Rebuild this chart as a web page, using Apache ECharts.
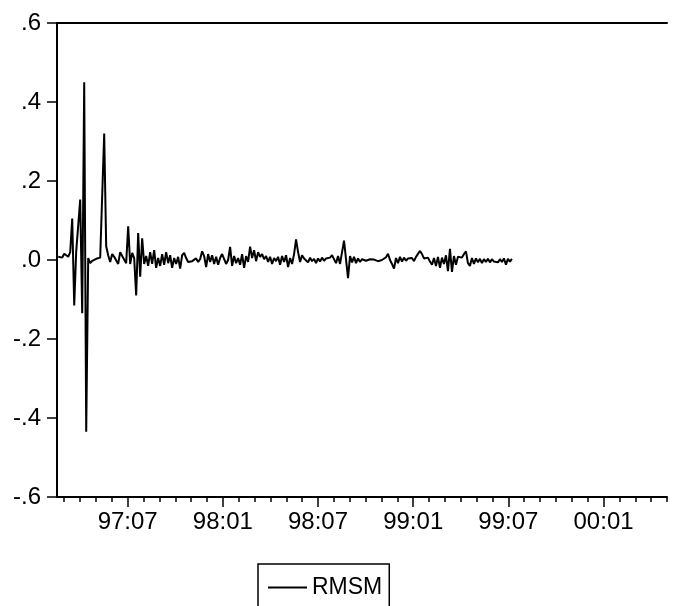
<!DOCTYPE html>
<html>
<head>
<meta charset="utf-8">
<script src="https://cdn.jsdelivr.net/npm/echarts@6/dist/echarts.min.js"></script>
<style>
  html, body { margin: 0; padding: 0; background: #fff; }
  #chart { width: 683px; height: 606px; }
</style>
</head>
<body>
<div id="chart"></div>
<script>
// Series name
const seriesName = 'RMSM';
// Time origin: months counted from 1997:01 (=0). Observations are evenly spaced.
const startMonth = 1.622;
const monthStep = 0.126;
// RMSM values
const rmsm = [
  0.008, 0.012, 0.006, 0.016, 0.019, 0.008, 0.020, 0.105, -0.115, 0.022,
  0.018, 0.153, -0.135, 0.450, -0.435, 0.005, -0.008, -0.002, -0.005, 0.003,
  0.000, 0.006, 0.004, 0.320, 0.035, 0.012, -0.005, 0.015, 0.008, 0.012,
  -0.010, 0.020, 0.010, 0.015, -0.008, 0.085, -0.010, 0.018, 0.005, -0.090,
  0.068, -0.042, 0.055, -0.010, 0.010, -0.015, 0.020, -0.010, 0.025, -0.020,
  0.005, -0.015, 0.015, -0.012, 0.020, -0.008, 0.012, -0.020, 0.005, -0.010,
  0.008, -0.022, 0.012, 0.018, 0.005, -0.005, 0.000, -0.003, -0.008, 0.004,
  -0.005, 0.002, 0.022, 0.010, -0.018, 0.015, -0.005, 0.012, -0.010, 0.008,
  -0.012, 0.005, 0.015, 0.020, -0.010, 0.000, 0.033, -0.015, 0.010, -0.008,
  0.005, -0.012, 0.015, -0.020, 0.010, -0.005, 0.034, 0.005, 0.025, -0.003,
  0.020, 0.008, 0.015, 0.002, 0.010, -0.005, 0.008, -0.010, 0.005, -0.003,
  0.008, -0.012, 0.010, -0.005, 0.012, -0.018, 0.005, -0.010, 0.015, 0.052,
  0.020, -0.005, 0.012, 0.004, 0.008, -0.006, 0.006, -0.003, 0.003, -0.008,
  0.004, -0.004, 0.006, -0.002, 0.004, 0.002, 0.006, 0.012, 0.016, -0.008,
  0.010, -0.010, 0.020, 0.049, 0.048, -0.046, 0.010, -0.006, 0.008, -0.008,
  0.004, -0.005, 0.002, 0.003, -0.002, 0.001, 0.002, -0.002, 0.001, 0.002,
  -0.003, 0.002, 0.000, 0.003, 0.007, 0.016, 0.000, -0.010, -0.022, 0.005,
  -0.008, 0.008, -0.004, 0.006, -0.002, 0.004, 0.002, 0.005, -0.003, 0.008,
  0.010, 0.023, 0.015, 0.004, 0.002, 0.006, -0.004, -0.012, 0.005, -0.015,
  0.008, -0.020, 0.006, -0.010, 0.012, -0.028, 0.028, -0.030, 0.010, -0.012,
  0.008, 0.012, 0.006, 0.015, 0.022, -0.008, -0.015, 0.005, -0.010, 0.004,
  -0.006, 0.003, -0.008, 0.002, -0.005, 0.003, -0.006, 0.002, -0.004, 0.001,
  -0.006, 0.002, -0.005, 0.004, -0.012, 0.003, -0.004, 0.003
];
// Axis ranges and ticks
const xMin = 1.545, xMax = 40;
const minorTickMonths = [2,3,4,5,6,7,8,9,10,11,12,13,14,15,16,17,18,19,20,21,22,23,24,25,26,27,28,29,30,31,32,33,34,35,36,37,38,39,40];
const majorTickMonths = [6, 12, 18, 24, 30, 36];
const majorTickLabels = ['97:07', '98:01', '98:07', '99:01', '99:07', '00:01'];
const yMin = -0.6, yMax = 0.6, yStep = 0.2;

const seriesData = rmsm.map((v, i) => [startMonth + i * monthStep, v]);

const FONT = "'Liberation Sans', Arial, sans-serif";
const chart = echarts.init(document.getElementById('chart'), null, { renderer: 'canvas' });

chart.setOption({
  backgroundColor: '#ffffff',
  animation: false,
  grid: { left: 57, top: 23, right: 16, bottom: 109, containLabel: false },
  xAxis: [
    {
      type: 'value', position: 'bottom', min: xMin, max: xMax,
      axisLine: { show: true, onZero: false, lineStyle: { color: '#000', width: 2 } },
      axisTick: { show: true, customValues: minorTickMonths, length: 5, lineStyle: { color: '#000', width: 1.5 } },
      axisLabel: { show: false },
      splitLine: { show: false }
    },
    {
      type: 'value', position: 'bottom', min: xMin, max: xMax,
      axisLine: { show: false, onZero: false },
      axisTick: { show: true, customValues: majorTickMonths, length: 10, lineStyle: { color: '#000', width: 1.5 } },
      axisLabel: {
        show: true, customValues: majorTickMonths, margin: 13,
        color: '#000', fontSize: 24, fontFamily: FONT,
        formatter: function (v) {
          const idx = majorTickMonths.indexOf(Math.round(v));
          return idx >= 0 ? majorTickLabels[idx] : '';
        }
      },
      splitLine: { show: false }
    },
    {
      type: 'value', position: 'top', min: xMin, max: xMax,
      axisLine: { show: true, onZero: false, lineStyle: { color: '#000', width: 2 } },
      axisTick: { show: false }, axisLabel: { show: false }, splitLine: { show: false }
    }
  ],
  yAxis: {
    type: 'value', min: yMin, max: yMax, interval: yStep,
    axisLine: { show: true, onZero: false, lineStyle: { color: '#000', width: 2 } },
    axisTick: { show: true, length: 10, lineStyle: { color: '#000', width: 1.5 } },
    axisLabel: {
      color: '#000', fontSize: 24, fontFamily: FONT, margin: 16,
      formatter: function (v) {
        return Number(v).toFixed(1).replace('0.', '.');
      }
    },
    splitLine: { show: false }
  },
  legend: {
    show: true, left: 258, top: 564,
    padding: [12, 7, 30, 10],
    borderColor: '#000', borderWidth: 1.5,
    itemWidth: 39, itemHeight: 2, itemGap: 9,
    data: [{ name: seriesName, icon: 'rect' }],
    textStyle: { color: '#000', fontSize: 23, fontFamily: FONT, padding: [0, 0, 0, 0] }
  },
  series: [{
    name: seriesName, type: 'line', xAxisIndex: 0,
    data: seriesData, symbol: 'none', showSymbol: false,
    lineStyle: { color: '#000', width: 2 },
    itemStyle: { color: '#000' },
    emphasis: { disabled: true }
  }]
});
</script>
</body>
</html>
